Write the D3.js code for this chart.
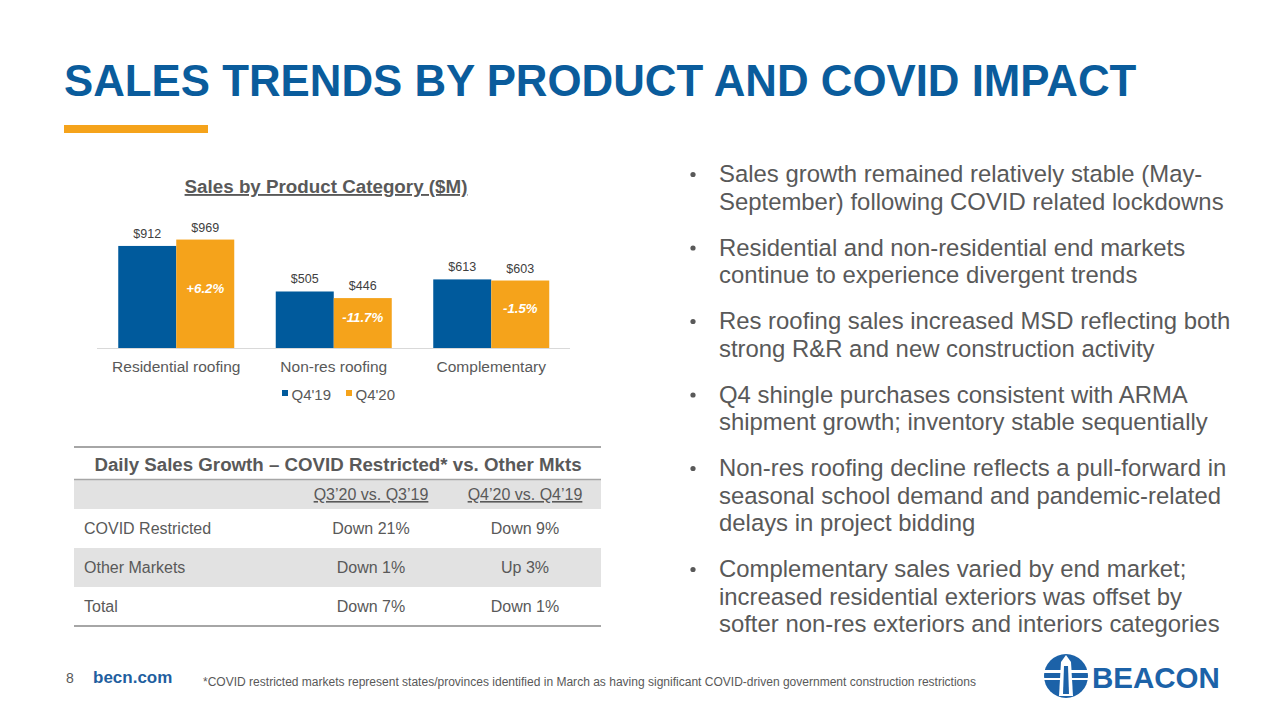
<!DOCTYPE html>
<html><head><meta charset="utf-8">
<script src="https://cdn.jsdelivr.net/npm/d3@7"></script>
<style>
html,body{margin:0;padding:0;background:#fff;}
svg{display:block;font-family:"Liberation Sans",Arial,sans-serif;}
</style></head>
<body><svg id="c" width="1280" height="720"></svg>
<script>
// ---- data ----
const categories = ["Residential roofing", "Non-res roofing", "Complementary"];
const seriesNames = ["Q4'19", "Q4'20"];
const q419 = [912, 505, 613];
const q420 = [969, 446, 603];
const changeLabels = ["+6.2%", "-11.7%", "-1.5%"];
const tableTitle = "Daily Sales Growth \u2013 COVID Restricted* vs. Other Mkts";
const tableHeaders = ["Q3\u201920 vs. Q3\u201919", "Q4\u201920 vs. Q4\u201919"];
const tableRowLabels = ["COVID Restricted", "Other Markets", "Total"];
const tableQ3 = ["Down 21%", "Down 1%", "Down 7%"];
const tableQ4 = ["Down 9%", "Up 3%", "Down 1%"];
const bullets = [
  ["Sales growth remained relatively stable (May-", "September) following COVID related lockdowns"],
  ["Residential and non-residential end markets", "continue to experience divergent trends"],
  ["Res roofing sales increased MSD reflecting both", "strong R&R and new construction activity"],
  ["Q4 shingle purchases consistent with ARMA", "shipment growth; inventory stable sequentially"],
  ["Non-res roofing decline reflects a pull-forward in", "seasonal school demand and pandemic-related", "delays in project bidding"],
  ["Complementary sales varied by end market;", "increased residential exteriors was offset by", "softer non-res exteriors and interiors categories"]
];

const BLUE = "#005a9c", ORANGE = "#f5a31b", GRAY = "#595959", TITLEBLUE = "#0a5c9c";
const svg = d3.select("#c");
svg.append("rect").attr("width",1280).attr("height",720).attr("fill","#fff");

// ---- slide title ----
svg.append("text").attr("x",64).attr("y",96)
  .attr("font-size",43.8).attr("font-weight","bold").attr("fill",TITLEBLUE)
  .text("SALES TRENDS BY PRODUCT AND COVID IMPACT");
svg.append("rect").attr("x",64).attr("y",125).attr("width",144).attr("height",8).attr("fill",ORANGE);

// ---- bar chart ----
const x0 = d3.scaleBand().domain(categories).range([97.5,570]).paddingInner(0.2635).paddingOuter(0.13175);
const x1 = d3.scaleBand().domain(seriesNames).range([0,x0.bandwidth()]);
const y = d3.scaleLinear().domain([0,1000]).range([348,236.1]);
const color = d3.scaleOrdinal().domain(seriesNames).range([BLUE,ORANGE]);

svg.append("text").attr("x",326).attr("y",193).attr("text-anchor","middle")
  .attr("font-size",18.8).attr("font-weight","bold").attr("fill",GRAY)
  .attr("text-decoration","underline").text("Sales by Product Category ($M)");

const chart = svg.append("g");
const groups = chart.selectAll("g.grp").data(categories).join("g")
  .attr("transform",c=>`translate(${x0(c)},0)`);
const vals = (c,i)=>[{s:seriesNames[0],v:q419[i]},{s:seriesNames[1],v:q420[i],p:changeLabels[i]}];
groups.each(function(c,i){
  const g = d3.select(this);
  const d = vals(c,i);
  g.selectAll("rect").data(d).join("rect")
    .attr("x",e=>x1(e.s)).attr("width",x1.bandwidth())
    .attr("y",e=>y(e.v)).attr("height",e=>y(0)-y(e.v)).attr("fill",e=>color(e.s));
  g.selectAll("text.val").data(d).join("text").attr("class","val")
    .attr("x",e=>x1(e.s)+x1.bandwidth()/2).attr("y",e=>y(e.v)-8)
    .attr("text-anchor","middle").attr("font-size",12.5).attr("fill","#404040")
    .text(e=>"$"+e.v);
  g.selectAll("text.pct").data(d.filter(e=>e.p)).join("text").attr("class","pct")
    .attr("x",e=>x1(e.s)+x1.bandwidth()/2).attr("y",e=>(y(e.v)+y(0))/2-1)
    .attr("text-anchor","middle").attr("font-size",13.2).attr("font-weight","bold")
    .attr("font-style","italic").attr("fill","#fff").text(e=>e.p);
});
const xAxis = chart.append("g").attr("transform",`translate(0,${y(0)})`)
  .call(d3.axisBottom(x0).tickSize(0).tickPadding(13));
xAxis.select(".domain").attr("stroke","#d9d9d9").attr("d","M0,0.5H473").attr("transform","translate(97,0)");
xAxis.selectAll("text").attr("font-size",15.5).attr("fill",GRAY).attr("font-family","Liberation Sans, Arial, sans-serif");

const legend = svg.append("g").selectAll("g").data(seriesNames).join("g")
  .attr("transform",(s,i)=>`translate(${282+i*64},390)`);
legend.append("rect").attr("width",6).attr("height",6).attr("fill",s=>color(s));
legend.append("text").attr("x",9.5).attr("y",10).attr("font-size",15).attr("fill",GRAY).text(s=>s);

// ---- table ----
const tb = svg.append("g");
const rowY = d3.scaleBand().domain(tableRowLabels).range([509,626]);
const colX = d3.scalePoint().domain(tableHeaders).range([371,525]);
tb.append("rect").attr("x",74).attr("y",480).attr("width",527).attr("height",29).attr("fill","#e2e2e2");
tb.selectAll("rect.row").data(tableRowLabels.filter((r,i)=>i%2===1)).join("rect").attr("class","row")
  .attr("x",74).attr("y",r=>rowY(r)).attr("width",527).attr("height",rowY.bandwidth()).attr("fill","#e2e2e2");
tb.append("line").attr("x1",74).attr("x2",601).attr("y1",447).attr("y2",447).attr("stroke","#a6a6a6").attr("stroke-width",2);
tb.append("line").attr("x1",74).attr("x2",601).attr("y1",479.5).attr("y2",479.5).attr("stroke","#a6a6a6").attr("stroke-width",1.5);
tb.append("line").attr("x1",74).attr("x2",601).attr("y1",626).attr("y2",626).attr("stroke","#a6a6a6").attr("stroke-width",2);
tb.append("text").attr("x",338).attr("y",471).attr("text-anchor","middle")
  .attr("font-size",18.7).attr("font-weight","bold").attr("fill",GRAY).text(tableTitle);
tb.selectAll("text.hdr").data(tableHeaders).join("text").attr("class","hdr")
  .attr("x",h=>colX(h)).attr("y",500).attr("text-anchor","middle").attr("font-size",16)
  .attr("fill",GRAY).attr("text-decoration","underline").text(h=>h);
tableRowLabels.forEach((r,i)=>{
  const yy = rowY(r)+rowY.bandwidth()/2+5.5;
  tb.append("text").attr("x",84).attr("y",yy).attr("font-size",16).attr("fill",GRAY).text(r);
  tb.append("text").attr("x",colX(tableHeaders[0])).attr("y",yy).attr("text-anchor","middle").attr("font-size",16).attr("fill",GRAY).text(tableQ3[i]);
  tb.append("text").attr("x",colX(tableHeaders[1])).attr("y",yy).attr("text-anchor","middle").attr("font-size",16).attr("fill",GRAY).text(tableQ4[i]);
});

// ---- bullets ----
const bg = svg.append("g");
let by = 182;
const LH = 27.5, PG = 46;
bullets.forEach((lines,bi)=>{
  bg.append("circle").attr("cx",693).attr("cy",by-7.5).attr("r",2.6).attr("fill",GRAY);
  lines.forEach((ln,li)=>{
    bg.append("text").attr("x",719).attr("y",by+li*LH).attr("font-size",23.9).attr("fill",GRAY).text(ln);
  });
  by += (lines.length-1)*LH + PG;
});

// ---- footer ----
svg.append("text").attr("x",66).attr("y",683).attr("font-size",14).attr("fill",GRAY).text("8");
svg.append("text").attr("x",93).attr("y",683).attr("font-size",17).attr("font-weight","bold").attr("fill","#1f5fa0").text("becn.com");
svg.append("text").attr("x",203).attr("y",686).attr("font-size",12).attr("fill",GRAY)
  .attr("font-family","Liberation Sans Narrow, Liberation Sans, Arial, sans-serif")
  .attr("textLength",773).attr("lengthAdjust","spacingAndGlyphs")
  .text("*COVID restricted markets represent states/provinces identified in March as having significant COVID-driven government construction restrictions");

// logo
const LB = "#1c62a8";
const logo = svg.append("g").attr("transform","translate(1066,676)");
logo.append("circle").attr("r",22).attr("fill",LB);
logo.append("rect").attr("x",-22).attr("y",-6).attr("width",44).attr("height",3).attr("fill","#fff");
logo.append("rect").attr("x",-22).attr("y",2).attr("width",44).attr("height",2).attr("fill","#fff");
logo.append("path").attr("d","M-5,-14 L5,-14 L7,20 L-7,20 Z").attr("fill","#fff");
logo.append("path").attr("d","M-2,-10 L2,-10 L3,18 L-3,18 Z").attr("fill",LB);
logo.append("path").attr("d","M0,-21 L-5,-14 L5,-14 Z").attr("fill","#fff");
svg.append("text").attr("x",1092).attr("y",688).attr("font-size",29.5).attr("font-weight","bold").attr("fill",LB).text("BEACON");
</script></body></html>
